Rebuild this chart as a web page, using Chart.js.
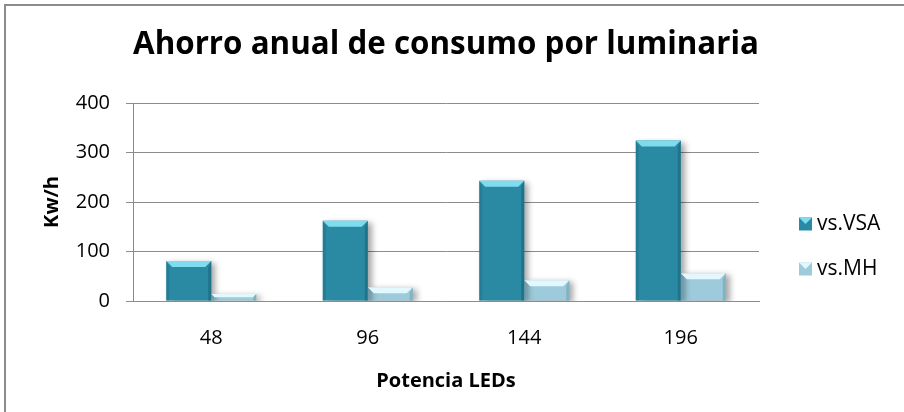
<!DOCTYPE html>
<html>
<head>
  <title>Ahorro anual de consumo por luminaria</title>
  <script src="https://cdn.jsdelivr.net/npm/chart.js"></script>
  <style>
    body {
      margin: 0;
      background: #fff;
    }
    #wrap {
      position: relative;
      width: 904px;
      height: 412px;
    }
    #frame {
      position: absolute;
      left: 4px;
      top: 4px;
      right: 0;
      bottom: 0;
      border-left: 2px solid #8c8c8c;
      border-top: 2px solid #8c8c8c;
      pointer-events: none;
    }
  </style>
</head>
<body>
<div id="wrap">
  <canvas id="ledChart" width="904" height="412"></canvas>
  <div id="frame"></div>
</div>

<script>
  // data
  const categories = ["48", "96", "144", "196"];
  const vsVSA = [81, 162, 243, 324];
  const vsMH = [14, 28, 42, 56];
  const yTicks = [0, 100, 200, 300, 400];

  const FONT = "'Open Sans', 'Liberation Sans', Arial, sans-serif";
  const GRID = "#8c8c8c";

  // bar look: base, light top bevel, dark sides
  const looks = [
    { base: "#2a8aa4", top: "#7fdcef", side: "#1d6c82" },
    { base: "#9dcbdb", top: "#e2f8fd", side: "#78a9ba" }
  ];

  // Excel-like bevel + drop shadow on the bars
  const bevelPlugin = {
    id: "bevel",
    beforeDatasetsDraw(chart) {
      const ctx = chart.ctx;
      ctx.save();
      ctx.shadowColor = "rgba(0,0,0,0.35)";
      ctx.shadowBlur = 6;
      ctx.shadowOffsetX = 4;
      ctx.shadowOffsetY = 2;
    },
    afterDatasetsDraw(chart) {
      const ctx = chart.ctx;
      ctx.restore();
      chart.data.datasets.forEach((ds, i) => {
        const meta = chart.getDatasetMeta(i);
        const look = looks[i];
        meta.data.forEach(bar => {
          const p = bar.getProps(["x", "y", "base", "width"], true);
          const l = p.x - p.width / 2, r = p.x + p.width / 2;
          const t = p.y, b = p.base;
          const bv = Math.min(6, (b - t) / 2);
          ctx.save();
          // top
          ctx.fillStyle = look.top;
          ctx.beginPath();
          ctx.moveTo(l, t); ctx.lineTo(r, t);
          ctx.lineTo(r - bv, t + bv); ctx.lineTo(l + bv, t + bv);
          ctx.closePath(); ctx.fill();
          // left
          ctx.fillStyle = look.side;
          ctx.globalAlpha = 0.45;
          ctx.beginPath();
          ctx.moveTo(l, t); ctx.lineTo(l + 3, t + bv);
          ctx.lineTo(l + 3, b); ctx.lineTo(l, b);
          ctx.closePath(); ctx.fill();
          // right
          ctx.globalAlpha = 0.75;
          ctx.beginPath();
          ctx.moveTo(r, t); ctx.lineTo(r - 3, t + bv);
          ctx.lineTo(r - 3, b); ctx.lineTo(r, b);
          ctx.closePath(); ctx.fill();
          ctx.restore();
        });
      });
    }
  };

  // legend on the right, same spot as the original
  const sideLegend = {
    id: "sideLegend",
    afterDraw(chart) {
      const ctx = chart.ctx;
      ctx.save();
      ctx.font = "21px " + FONT;
      ctx.textBaseline = "middle";
      ctx.textAlign = "left";
      chart.data.datasets.forEach((ds, i) => {
        const cy = 224 + i * 45;
        const look = looks[i];
        ctx.fillStyle = look.base;
        ctx.fillRect(799, cy - 6.5, 13, 13);
        ctx.fillStyle = look.top;
        ctx.beginPath();
        ctx.moveTo(799, cy - 6.5); ctx.lineTo(812, cy - 6.5);
        ctx.lineTo(805.5, cy); ctx.closePath(); ctx.fill();
        ctx.fillStyle = "#000";
        ctx.fillText(ds.label, 817, cy);
      });
      ctx.restore();
    }
  };

  new Chart(document.getElementById("ledChart"), {
    type: "bar",
    data: {
      labels: categories,
      datasets: [
        { label: "vs.VSA", data: vsVSA, backgroundColor: looks[0].base },
        { label: "vs.MH", data: vsMH, backgroundColor: looks[1].base }
      ]
    },
    options: {
      responsive: false,
      animation: false,
      categoryPercentage: 0.575,
      barPercentage: 1,
      layout: { padding: { left: 6, top: 6, right: 145, bottom: 0 } },
      plugins: {
        legend: { display: false },
        tooltip: { enabled: false },
        title: {
          display: true,
          fullSize: false,
          text: "Ahorro anual de consumo por luminaria",
          color: "#000",
          font: { family: FONT, size: 32, weight: "bold" },
          padding: { top: 20, bottom: 38.6 }
        }
      },
      scales: {
        x: {
          afterFit: s => { s.height = 111; },
          grid: { display: false, drawTicks: false },
          border: { display: true, color: GRID },
          ticks: { color: "#000", padding: 25, font: { family: FONT, size: 20 } },
          title: {
            display: true,
            text: "Potencia LEDs",
            color: "#000",
            font: { family: FONT, size: 20, weight: "bold" },
            padding: { top: 0, bottom: 19 }
          }
        },
        y: {
          min: 0,
          max: 400,
          afterFit: s => { s.width = 127; },
          afterBuildTicks: s => { s.ticks = yTicks.map(v => ({ value: v })); },
          grid: { color: GRID, tickLength: 7, drawTicks: true },
          border: { display: true, color: GRID },
          ticks: { color: "#000", padding: 16, font: { family: FONT, size: 20 } },
          title: {
            display: true,
            text: "Kw/h",
            color: "#000",
            font: { family: FONT, size: 20, weight: "bold" },
            padding: { top: 34.5, bottom: 0 }
          }
        }
      }
    },
    plugins: [bevelPlugin, sideLegend]
  });
</script>
</body>
</html>
